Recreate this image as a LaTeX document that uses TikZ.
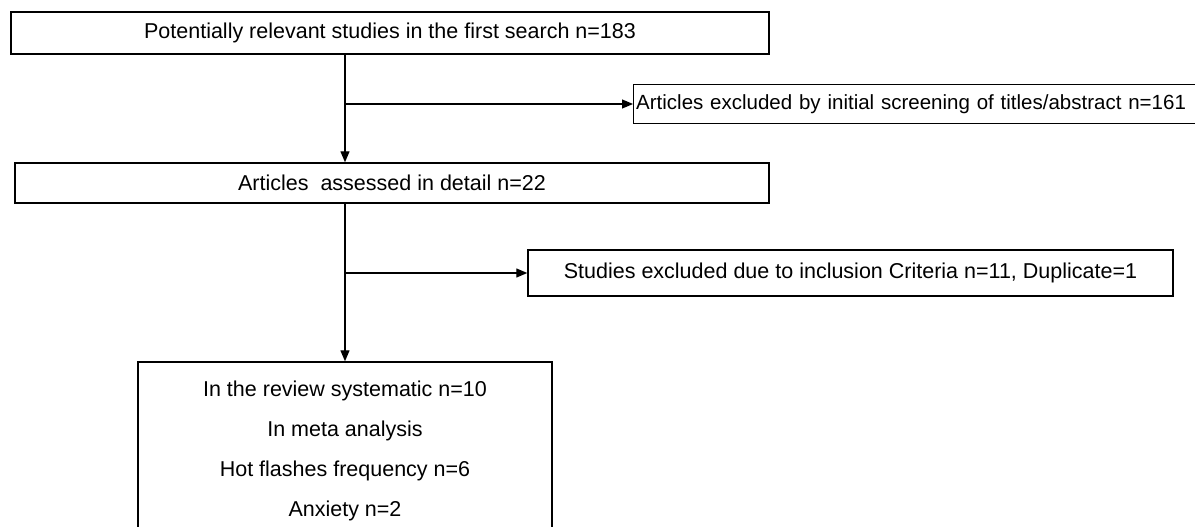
\documentclass[tikz,border=0pt]{standalone}
\usepackage{fontspec}
\setmainfont{Liberation Sans}
\usetikzlibrary{arrows.meta,positioning}

\begin{document}
\begin{tikzpicture}[x=1pt, y=-1pt, line width=1.2pt, >={Triangle[length=11pt,width=9pt]},
                    box node/.style={draw, line width=1.4pt, inner sep=0pt, font=\fontsize{21.5}{25}\selectfont}]

  \useasboundingbox (0,0) rectangle (1195,527);
  \begin{scope}
  \clip (0,0) rectangle (1195,527);

  \node[box node, minimum width=758pt, minimum height=42pt] (1) at (390,33) {Potentially relevant studies in the first search n=183};
  \node[box node, minimum width=754pt, minimum height=40pt] (2) at (392,183) {Articles\ \ assessed in detail n=22};
  \node[box node, minimum height=39pt, anchor=west, text width=600pt, align=left, inner xsep=2.5pt,
        font=\fontsize{20.5}{25}\selectfont] (3) at (633,104) {Articles excluded by initial screening of titles/abstract n=161};
  \node[box node, minimum width=645pt, minimum height=46pt] (5) at (850.5,273) {Studies excluded due to inclusion Criteria n=11, Duplicate=1};
  \node[box node, minimum width=414pt, minimum height=178pt, align=center,
        font=\fontsize{21.5}{40}\selectfont] (4) at (345,451)
        {In the review systematic n=10\\In meta analysis\\Hot flashes frequency n=6\\Anxiety n=2};

  \coordinate (a) at (345,104);
  \coordinate (b) at (345,273);

  \draw[->] (a |- 1.south) -- (a |- 2.north);
  \draw[->] (a) -- (3.west);
  \draw[->] (2.south -| b) -- (4.north);
  \draw[->] (b) -- (5.west);
  \end{scope}

\end{tikzpicture}
\end{document}
